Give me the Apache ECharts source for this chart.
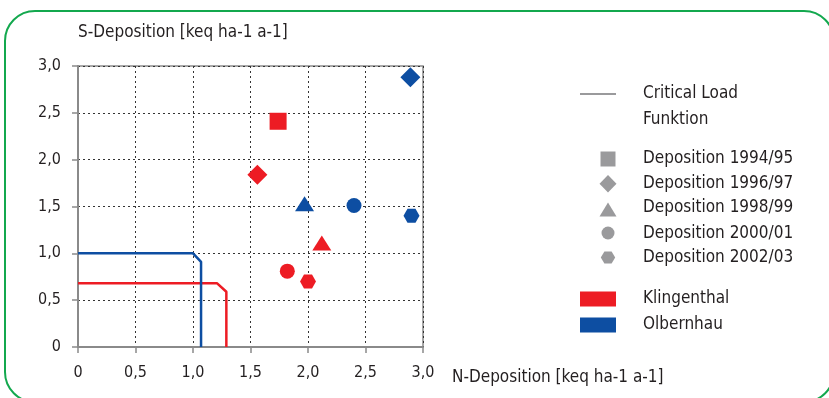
<!DOCTYPE html>
<html>
<head>
<meta charset="utf-8">
<script src="https://cdn.jsdelivr.net/npm/echarts@6/dist/echarts.min.js"></script>
<style>
  html, body { margin: 0; padding: 0; background: #ffffff; }
  #chart { width: 829px; height: 398px; }
</style>
</head>
<body>
<div id="chart"></div>
<script>
// Deposition periods (one marker shape each)
const periods = ['Deposition 1994/95', 'Deposition 1996/97', 'Deposition 1998/99', 'Deposition 2000/01', 'Deposition 2002/03'];
const sites = ['Klingenthal', 'Olbernhau'];

// N- and S-deposition per period [keq ha-1 a-1]
const klingenthalN = [1.74, 1.56, 2.12, 1.82, 2.00];
const klingenthalS = [2.41, 1.84, 1.11, 0.81, 0.70];
const olbernhauN = [null, 2.89, 1.97, 2.40, 2.90];
const olbernhauS = [null, 2.88, 1.53, 1.51, 1.40];

// Critical load functions (N, S vertices)
const klingenthalCLN = [0, 1.21, 1.29, 1.29];
const klingenthalCLS = [0.68, 0.68, 0.59, 0];
const olbernhauCLN = [0, 1.00, 1.07, 1.07];
const olbernhauCLS = [1.00, 1.00, 0.91, 0];

// Axis ticks
const axisTicks = [0, 0.5, 1.0, 1.5, 2.0, 2.5, 3.0];

const FONT = '"Liberation Sans Narrow", "DejaVu Sans Condensed", "Liberation Sans", sans-serif';
const TXT = '#231f20';
const RED = '#ed1c24';
const BLUE = '#0d4ea2';
const GREY = '#9a9a9c';
const siteColors = [RED, BLUE];

const HEX = 'path://M-1,0 L-0.5,-0.866 L0.5,-0.866 L1,0 L0.5,0.866 L-0.5,0.866 Z';
const periodSymbols = ['rect', 'diamond', 'triangle', 'circle', HEX];
const periodSizes = [[17, 17], [20, 20], [19, 15], [15, 15], [16, 14]];

const fmt = v => (v === 0 ? '0' : v.toFixed(1).replace('.', ','));

const scatterSeries = periods.map((name, i) => {
  const pts = [];
  [[klingenthalN, klingenthalS], [olbernhauN, olbernhauS]].forEach(([xs, ys], s) => {
    if (xs[i] != null) {
      pts.push({ value: [xs[i], ys[i]], itemStyle: { color: siteColors[s], opacity: 1 } });
    }
  });
  return {
    name, type: 'scatter', symbol: periodSymbols[i], symbolSize: periodSizes[i],
    itemStyle: { opacity: 1 },
    data: pts, z: 5, emphasis: { disabled: true }
  };
});

const clSeries = [[klingenthalCLN, klingenthalCLS], [olbernhauCLN, olbernhauCLS]].map(([xs, ys], s) => ({
  name: sites[s], type: 'line', showSymbol: false, symbol: 'none',
  data: xs.map((x, k) => [x, ys[k]]),
  lineStyle: { color: siteColors[s], width: 2.5 }, z: 4,
  emphasis: { disabled: true }
}));

// Legend drawn beside the plot
const LX = 608, TX = 643;
const legendText = (text, y) => ({
  type: 'text', x: TX, y: y,
  style: { text, fill: TXT, font: '17px ' + FONT, align: 'left', verticalAlign: 'middle' }
});
const legendGraphics = [
  { type: 'line', shape: { x1: 580, y1: 94, x2: 616, y2: 94 }, style: { stroke: GREY, lineWidth: 2 } },
  legendText('Critical Load', 93.5),
  legendText('Funktion', 119.5),
  { type: 'rect', shape: { x: LX - 7.5, y: 151.5, width: 15, height: 15 }, style: { fill: GREY } },
  { type: 'polygon', shape: { points: [[LX, 175], [LX + 8.5, 183.7], [LX, 192.4], [LX - 8.5, 183.7]] }, style: { fill: GREY } },
  { type: 'polygon', shape: { points: [[LX, 202.5], [LX + 8.5, 216.5], [LX - 8.5, 216.5]] }, style: { fill: GREY } },
  { type: 'circle', shape: { cx: LX, cy: 233, r: 6.5 }, style: { fill: GREY } },
  { type: 'polygon', shape: { points: [[LX - 7.2, 257.5], [LX - 3.6, 251.5], [LX + 3.6, 251.5], [LX + 7.2, 257.5], [LX + 3.6, 263.5], [LX - 3.6, 263.5]] }, style: { fill: GREY } },
  legendText(periods[0], 159),
  legendText(periods[1], 184),
  legendText(periods[2], 208),
  legendText(periods[3], 233.3),
  legendText(periods[4], 257.8),
  { type: 'rect', shape: { x: 580, y: 291.5, width: 36, height: 15 }, style: { fill: RED } },
  { type: 'rect', shape: { x: 580, y: 317.5, width: 36, height: 15 }, style: { fill: BLUE } },
  legendText(sites[0], 299),
  legendText(sites[1], 324.6),
  // rounded green frame
  { type: 'rect', shape: { x: 5, y: 11, width: 829, height: 391, r: 30 }, style: { fill: 'none', stroke: '#13a84e', lineWidth: 2 }, z: 0 }
];

const chart = echarts.init(document.getElementById('chart'), null, { renderer: 'canvas' });
chart.setOption({
  animation: false,
  backgroundColor: '#ffffff',
  grid: { left: 78, top: 66, width: 345, height: 281, show: true, borderColor: '#8a8a8a', borderWidth: 1.5, containLabel: false },
  xAxis: {
    type: 'value', min: 0, max: 3, interval: 0.5,
    name: 'N-Deposition [keq ha-1 a-1]', nameLocation: 'end', nameGap: 29,
    nameTextStyle: { color: TXT, fontFamily: FONT, fontSize: 17, align: 'left', verticalAlign: 'top', padding: [22, 0, 0, 0] },
    axisLine: { show: true, onZero: false, lineStyle: { color: '#8a8a8a', width: 2 } },
    axisTick: { show: true, length: 6, lineStyle: { color: '#8a8a8a', width: 1.5 } },
    axisLabel: { color: TXT, fontFamily: FONT, fontSize: 16, margin: 18, formatter: fmt, showMinLabel: true, showMaxLabel: true },
    splitLine: { show: true, lineStyle: { color: '#333', width: 1, type: [2, 3] } }
  },
  yAxis: {
    type: 'value', min: 0, max: 3, interval: 0.5,
    name: 'S-Deposition [keq ha-1 a-1]', nameLocation: 'end', nameGap: 33,
    nameTextStyle: { color: TXT, fontFamily: FONT, fontSize: 17, align: 'left', verticalAlign: 'middle' },
    axisLine: { show: true, onZero: false, lineStyle: { color: '#8a8a8a', width: 2 } },
    axisTick: { show: true, length: 6, lineStyle: { color: '#8a8a8a', width: 1.5 } },
    axisLabel: { color: TXT, fontFamily: FONT, fontSize: 16, margin: 17, formatter: fmt },
    splitLine: { show: true, lineStyle: { color: '#333', width: 1, type: [2, 3] } }
  },
  graphic: legendGraphics,
  series: [...clSeries, ...scatterSeries]
});
</script>
</body>
</html>
